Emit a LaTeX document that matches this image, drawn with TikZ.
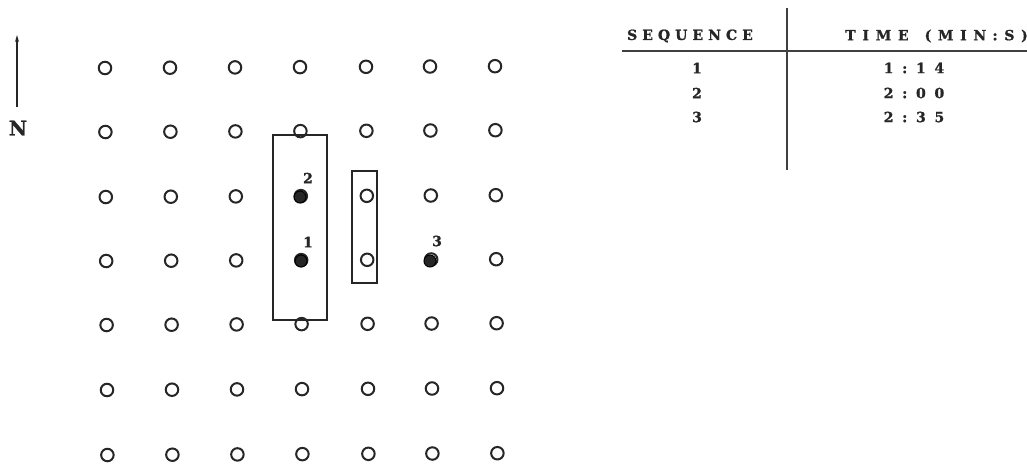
\documentclass[tikz,border=0pt]{standalone}
\usepackage{fontspec}
\newfontfamily\tabfont[LetterSpace=36,FakeBold=1.2]{DejaVu Serif Bold}
\newfontfamily\headfont[LetterSpace=48,FakeBold=1.2]{DejaVu Serif Bold}
\newfontfamily\timefont[LetterSpace=62,FakeBold=1.2]{DejaVu Serif Bold}
\newfontfamily\nfont[FakeBold=1]{DejaVu Serif Bold}
\usetikzlibrary{arrows.meta}
\tikzset{
  hole/.style={circle,draw=black!85,line width=2pt,minimum size=12.5pt,inner sep=0pt,fill=white},
  shot/.style={circle,fill=black!85,draw=black,line width=1pt,minimum size=12pt,inner sep=0pt},
  lab/.style={font=\tabfont\fontsize{14}{14}\selectfont,inner sep=0pt,text=black!85},
  hlab/.style={font=\headfont\fontsize{14}{14}\selectfont,inner sep=0pt,text=black!85},
  tlab/.style={font=\timefont\fontsize{14}{14}\selectfont,inner sep=0pt,text=black!85},
  frame/.style={draw=black!85,line width=1.2pt},
  rule/.style={draw=black!75,line width=1.6pt}
}
\begin{document}
\begin{tikzpicture}[x=1pt,y=-1pt]
\useasboundingbox (0,0) rectangle (1027,467);
% grid of holes
\foreach \c/\x in {0/105,1/170,2/235,3/300,4/366,5/430,6/495}{
  \foreach \r/\y in {0/68,1/132,2/197,3/261,4/325,5/390,6/455}{
    \node[hole] (h\c\r) at (\x+\r*0.4,\y-\c*0.3) {};
  }
}
% boxes
\draw[frame] (273,135) rectangle (327,320);
\draw[frame] (352,171) rectangle (377,283);
% fired holes
\node[shot] (s2) at (300,197) {};
\node[shot] (s1) at (301,261) {};
\node[shot] (s3) at (430,261) {};
\node[lab] (l2) at (308,178) {2};
\node[lab] (l1) at (308,242) {1};
\node[lab] (l3) at (437,241) {3};
% north arrow
\coordinate (ntip) at (17,35);
\coordinate (nbase) at (17,107);
\node[font=\nfont\fontsize{20}{20}\selectfont,inner sep=0pt,text=black!85] (N) at (18,128) {N};
\draw[line width=1.3pt,draw=black!85,-{Stealth[length=7pt,width=4pt]}] (nbase) -- (ntip);
% table
\coordinate (vt) at (787,8);
\coordinate (vb) at (787,170);
\coordinate (hl) at (622,51);
\coordinate (hr) at (1027,51);
\draw[rule] (vt) -- (vb);
\draw[rule] (hl) -- (hr);
\node[lab] (th1) at (690,36) {SEQUENCE};
\node[hlab,anchor=east] (th2) at (1028,36) {TIME\hspace{16pt}(MIN:S)};
\node[lab] (a1) at (697,68) {1};
\node[lab] (a2) at (697,93) {2};
\node[lab] (a3) at (697,117) {3};
\node[tlab] (b1) at (914,68) {1:14};
\node[tlab] (b2) at (914,93) {2:00};
\node[tlab] (b3) at (914,117) {2:35};
\end{tikzpicture}
\end{document}
